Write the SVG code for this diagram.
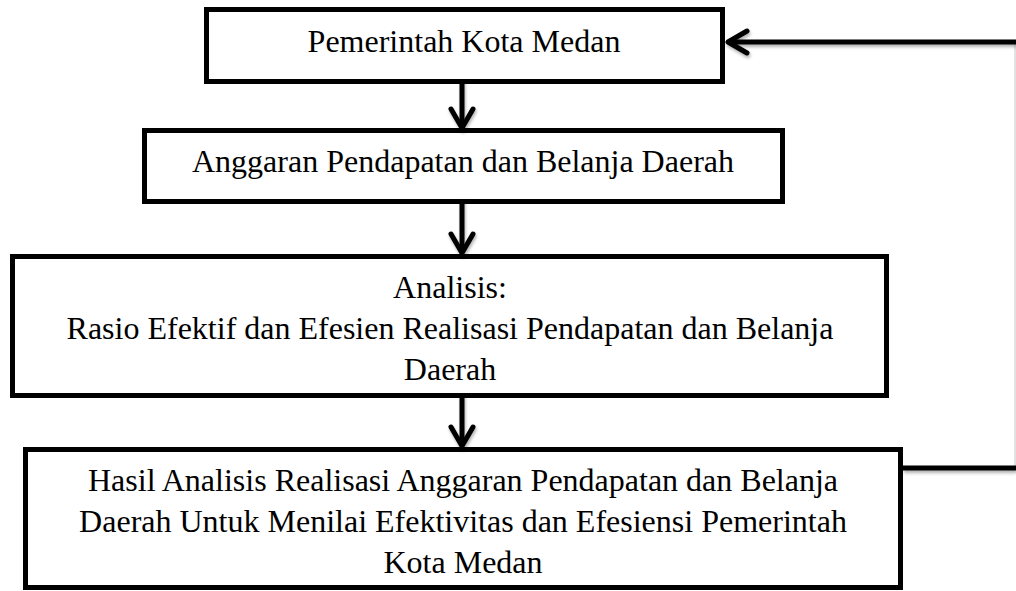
<svg xmlns="http://www.w3.org/2000/svg" width="1016" height="591" viewBox="0 0 1016 591">
  <style>
    .box { fill: #ffffff; stroke: #000000; stroke-width: 5; }
    .lbl { font-family: "Liberation Serif", "Times New Roman", serif; font-size: 32px; fill: #000000; text-anchor: middle; }
    .conn { fill: none; stroke: #000000; stroke-width: 5; }
  </style>
  <defs>
    <filter id="shadow" x="-20%" y="-20%" width="140%" height="160%">
      <feDropShadow dx="1" dy="2.5" stdDeviation="1.5" flood-color="#000000" flood-opacity="0.3"/>
    </filter>
    <marker id="chev" markerUnits="userSpaceOnUse" viewBox="-30 -20 40 40" refX="0" refY="0" markerWidth="40" markerHeight="40" orient="auto">
      <path d="M-19,-11 L0,0 L-19,11" fill="none" stroke="#000000" stroke-width="5" stroke-linecap="round" stroke-linejoin="round"/>
    </marker>
  </defs>

  <rect x="0" y="0" width="1016" height="591" fill="#ffffff"/>

  <g id="node-pemerintah">
    <rect class="box" x="206.5" y="9.5" width="516" height="72"/>
    <text class="lbl" x="464" y="52">Pemerintah Kota Medan</text>
  </g>

  <g id="node-apbd">
    <rect class="box" x="144.5" y="130.5" width="638" height="71"/>
    <text class="lbl" x="463" y="172">Anggaran Pendapatan dan Belanja Daerah</text>
  </g>

  <g id="node-analisis">
    <rect class="box" x="12.5" y="256.5" width="874" height="139"/>
    <text class="lbl" x="450" y="298">Analisis:</text>
    <text class="lbl" x="450" y="339">Rasio Efektif dan Efesien Realisasi Pendapatan dan Belanja</text>
    <text class="lbl" x="450" y="380">Daerah</text>
  </g>

  <g id="node-hasil">
    <rect class="box" x="25.5" y="449.5" width="875" height="138"/>
    <text class="lbl" x="463" y="491">Hasil Analisis Realisasi Anggaran Pendapatan dan Belanja</text>
    <text class="lbl" x="463" y="532">Daerah Untuk Menilai Efektivitas dan Efesiensi Pemerintah</text>
    <text class="lbl" x="463" y="573">Kota Medan</text>
  </g>

  <g id="connectors">
    <line x1="1015" y1="44" x2="1015" y2="466" stroke="#e2e2e2" stroke-width="2"/>
    <g filter="url(#shadow)">
      <line class="conn" x1="462" y1="80" x2="462" y2="128" marker-end="url(#chev)"/>
      <line class="conn" x1="462" y1="199" x2="462" y2="253" marker-end="url(#chev)"/>
      <line class="conn" x1="462" y1="393" x2="462" y2="446" marker-end="url(#chev)"/>
      <line class="conn" x1="903" y1="468" x2="1016" y2="468"/>
      <line class="conn" x1="1016" y1="42" x2="728" y2="42" marker-end="url(#chev)"/>
    </g>
  </g>
</svg>
